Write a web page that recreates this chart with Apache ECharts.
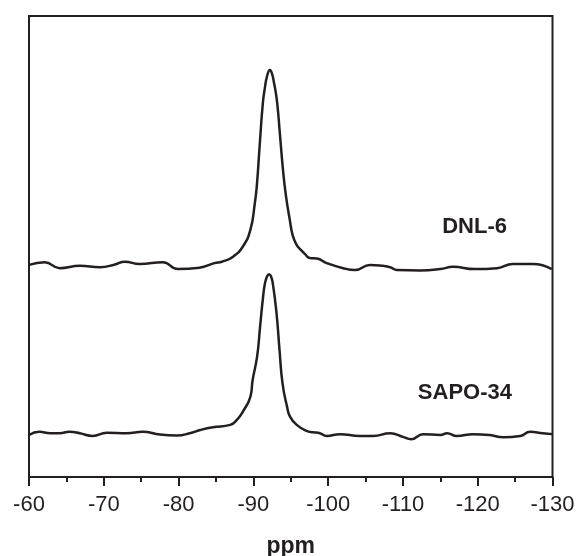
<!DOCTYPE html>
<html>
<head>
<meta charset="utf-8">
<script src="https://cdn.jsdelivr.net/npm/echarts@6/dist/echarts.min.js"></script>
<style>html,body{margin:0;padding:0;background:#fff;}#c{width:578px;height:556px;}</style>
</head>
<body>
<div id="c"></div>
<script>
// Chemical shift (ppm) and relative intensity (stacked display scale 0-100)
var seriesNames = ['DNL-6', 'SAPO-34'];
var dnl6Ppm = [-60.0,-62.1,-64.1,-66.8,-69.5,-71.5,-72.8,-74.8,-77.9,-79.9,-82.8,-84.8,-85.8,-87.3,-88.6,-89.6,-90.2,-90.47,-90.87,-91.27,-91.54,-91.81,-92.21,-92.47,-92.74,-93.14,-93.54,-93.94,-94.34,-94.88,-95.28,-95.81,-96.21,-96.88,-97.55,-98.5,-99.8,-102.0,-103.6,-105.6,-107.3,-108.3,-109.2,-112.3,-115.0,-116.7,-119.6,-122.6,-124.7,-127.4,-129.9];
var dnl6Int = [46.0,46.6,45.3,45.8,45.5,46.1,46.7,46.2,46.6,45.1,45.4,46.4,46.7,47.8,50.0,53.6,59.4,63.3,72.5,81.1,84.4,86.8,88.3,87.6,85.7,81.8,74.6,67.0,61.2,55.7,52.3,50.3,49.5,48.4,47.5,47.4,46.4,45.3,44.9,46.0,45.8,45.5,44.9,44.8,45.1,45.6,45.1,45.3,46.2,46.2,45.1];
var sapoPpm = [-60.0,-61.4,-62.8,-64.1,-65.4,-66.8,-68.5,-70.4,-73.1,-75.2,-77.5,-79.8,-81.5,-82.9,-84.6,-86.9,-87.8,-88.6,-89.6,-89.9,-90.5,-90.9,-91.3,-91.54,-91.8,-92.1,-92.34,-92.6,-93.1,-93.5,-93.9,-94.5,-94.9,-95.8,-97.1,-98.0,-98.9,-99.8,-101.6,-104.2,-106.0,-108.3,-110.0,-111.1,-112.7,-115.0,-115.9,-117.2,-119.4,-121.6,-123.4,-125.7,-127.0,-128.7,-130.0];
var sapoInt = [9.1,9.8,9.5,9.5,9.8,9.5,8.9,9.6,9.5,9.8,9.2,9.0,9.5,10.2,10.8,11.3,12.4,14.2,17.4,21.0,26.1,32.6,39.1,41.9,43.4,44.0,43.6,42.0,35.5,27.5,20.3,15.3,13.1,11.3,10.0,9.7,9.5,8.9,9.3,8.9,8.9,9.5,8.7,8.2,9.3,9.1,9.5,8.9,9.3,9.1,8.6,8.9,9.8,9.5,9.3];
var xTicks = [-60,-70,-80,-90,-100,-110,-120,-130];
var axisTitle = 'ppm';

function zip(a, b) { return a.map(function (v, i) { return [v, b[i]]; }); }

var chart = echarts.init(document.getElementById('c'), null, {renderer: 'canvas'});
var ink = '#231f20';
var font = '"Liberation Sans", Arial, sans-serif';
chart.setOption({
  animation: false,
  backgroundColor: '#fff',
  grid: {left: 29, right: 25.5, top: 16, bottom: 79, containLabel: false, outerBoundsMode: 'none', show: true, borderColor: ink, borderWidth: 2, backgroundColor: 'transparent'},
  xAxis: {
    type: 'value', inverse: true,
    min: xTicks[xTicks.length - 1], max: xTicks[0], interval: 10,
    name: axisTitle, nameLocation: 'middle', nameGap: 58,
    nameTextStyle: {fontFamily: font, fontWeight: 'bold', fontSize: 23, color: ink},
    axisLine: {show: true, lineStyle: {color: ink, width: 2}},
    axisTick: {show: true, inside: false, length: 9, lineStyle: {color: ink, width: 2}},
    minorTick: {show: true, splitNumber: 2, length: 5, lineStyle: {color: ink, width: 2}},
    axisLabel: {fontFamily: font, fontSize: 22, color: ink, margin: 17},
    splitLine: {show: false}
  },
  yAxis: {
    type: 'value', min: 0, max: 100, show: false
  },
  graphic: [
    {type: 'text', right: 71, top: 216, style: {text: seriesNames[0], font: 'bold 22px "Liberation Sans", Arial, sans-serif', fill: ink}},
    {type: 'text', right: 66, top: 382, style: {text: seriesNames[1], font: 'bold 22px "Liberation Sans", Arial, sans-serif', fill: ink}}
  ],
  series: [
    {name: seriesNames[0], type: 'line', data: zip(dnl6Ppm, dnl6Int), smooth: 0.5, showSymbol: false, lineStyle: {color: ink, width: 2.5}},
    {name: seriesNames[1], type: 'line', data: zip(sapoPpm, sapoInt), smooth: 0.5, showSymbol: false, lineStyle: {color: ink, width: 2.5}}
  ]
});
</script>
</body>
</html>
